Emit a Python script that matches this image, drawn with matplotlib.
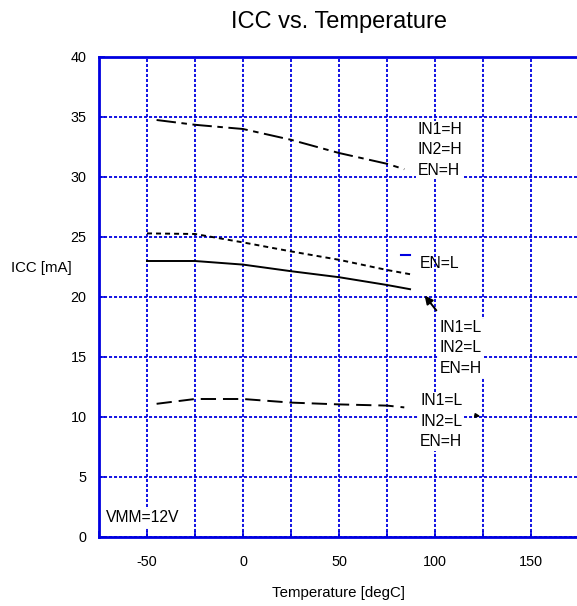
import numpy as np
import matplotlib
matplotlib.use("Agg")
import matplotlib.pyplot as plt

plt.rcParams['font.family'] = ['Liberation Sans', 'DejaVu Sans']
plt.rcParams['lines.scale_dashes'] = False

# data (temperature in degC, ICC in mA)
temp_hh = [-45, -25, 0, 25, 50, 75, 84]
icc_hh = [34.75, 34.35, 34.0, 33.1, 32.0, 31.1, 30.65]

temp_enl = [-50, -25, 0, 25, 50, 75, 87]
icc_enl = [25.3, 25.25, 24.55, 23.8, 23.1, 22.25, 21.9]

temp_ll = [-50, -25, 0, 25, 50, 75, 87]
icc_ll = [23.0, 23.0, 22.7, 22.15, 21.65, 21.0, 20.65]

temp_ll2 = [-45, -25, 0, 25, 50, 75, 84]
icc_ll2 = [11.1, 11.5, 11.5, 11.2, 11.05, 10.95, 10.8]

xticks = [-75, -50, -25, 0, 25, 50, 75, 100, 125, 150, 175]
xticklabels = ['', '-50', '', '0', '', '50', '', '100', '', '150', '']
yticks = [0, 5, 10, 15, 20, 25, 30, 35, 40]

blue = '#0000e0'

fig = plt.figure(figsize=(5.77, 6.06), dpi=100)
ax = fig.add_axes([99/577, 69/606, 480/577, 480/606])

ax.plot(temp_hh, icc_hh, color='black', lw=1.4, dashes=(14, 4, 4, 4))
ax.plot(temp_enl, icc_enl, color='black', lw=1.4, dashes=(3.6, 2.9))
ax.plot(temp_ll, icc_ll, color='black', lw=1.4)
ax.plot(temp_ll2, icc_ll2, color='black', lw=1.4, dashes=(11, 5))

# stray blue dash next to EN=L
ax.plot([82.5, 87], [23.5, 23.5], color=blue, lw=1.5)

ax.set_xlim(-75, 175)
ax.set_ylim(0, 40)
ax.set_xticks(xticks)
ax.set_xticklabels(xticklabels)
ax.set_yticks(yticks)
ax.tick_params(direction='in', length=4, width=1.2, color=blue,
               labelsize=10.4, labelcolor='black')
ax.tick_params(axis='x', pad=13)
ax.tick_params(axis='y', pad=9)
ax.grid(True, color=blue, lw=1.3, dashes=(2.2, 1.4))

for s in ['left', 'top', 'bottom']:
    ax.spines[s].set_color(blue)
    ax.spines[s].set_linewidth(2)
ax.spines['right'].set_visible(False)

ax.set_title('ICC vs. Temperature', fontsize=17, pad=21)
ax.set_xlabel('Temperature [degC]', fontsize=10.8, labelpad=12)
ax.set_ylabel('ICC [mA]', fontsize=10.8, rotation=0, ha='center', va='center')
ax.yaxis.set_label_coords(-0.12, 0.56)

box = dict(facecolor='white', edgecolor='none', pad=1)
ax.text(91, 32.25, 'IN1=H\nIN2=H\nEN=H', fontsize=11.3, va='center', ha='left',
        linespacing=1.45, bbox=box)
ax.text(92.2, 22.75, 'EN=L', fontsize=11.3, va='center', ha='left')
ax.text(102.6, 15.75, 'IN1=L\nIN2=L\nEN=H', fontsize=11.3, va='center', ha='left',
        linespacing=1.45, bbox=box)
ax.text(92.2, 9.65, 'IN1=L\nIN2=L\nEN=H', fontsize=11.3, va='center', ha='left',
        linespacing=1.45, bbox=box)
ax.text(-71.5, 1.6, 'VMM=12V', fontsize=11.3, va='center', ha='left', bbox=box)

ax.annotate('', xy=(93.7, 20.3), xytext=(101.6, 18.7),
            arrowprops=dict(arrowstyle='-|>', color='black', lw=1.4,
                            mutation_scale=12))
ax.annotate('', xy=(125, 10.05), xytext=(119.5, 10.15),
            arrowprops=dict(arrowstyle='-|>', color='black', lw=1.2,
                            mutation_scale=6))

fig.savefig('out.png', dpi=100)
